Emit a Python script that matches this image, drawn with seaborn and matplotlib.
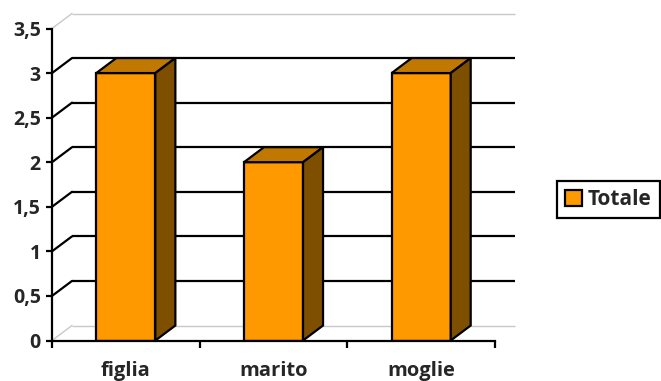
import matplotlib
matplotlib.use("Agg")
import matplotlib.pyplot as plt
from matplotlib.patches import Polygon
from matplotlib.ticker import FixedLocator, FixedFormatter
import seaborn as sns

categories = ["figlia", "marito", "moglie"]
values = [3, 2, 3]
series_name = "Totale"
y_ticks = [0, 0.5, 1, 1.5, 2, 2.5, 3, 3.5]
y_tick_labels = ["0", "0,5", "1", "1,5", "2", "2,5", "3", "3,5"]

sns.set_style("white")
plt.rcParams["font.family"] = ["Open Sans", "DejaVu Sans"]
plt.rcParams["font.weight"] = "bold"

W, H = 661, 381
fig = plt.figure(figsize=(W / 100, H / 100), dpi=100)
# front plane of the 3D-style plot area, in pixel terms
left_px, right_px, top_px, bottom_px = 52, 495, 28.5, 340.5
ax = fig.add_axes([left_px / W, (H - bottom_px) / H,
                   (right_px - left_px) / W, (bottom_px - top_px) / H])

front = "#FF9900"
top_c = "#C07800"
side_c = "#7F4F00"
edge_lw = 1.6

sns.barplot(x=categories, y=values, color=front, saturation=1, width=0.4,
            edgecolor="black", linewidth=edge_lw, ax=ax, zorder=3)

ax.set_xlim(-0.5, 2.5)
ax.set_ylim(0, 3.5)

# depth offset of the back wall (20 px right, 15 px up)
dx = 20 / ((right_px - left_px) / 3)
dy = 15 / ((bottom_px - top_px) / 3.5)

# back-wall gridlines and the diagonal links from the value axis
for v in y_ticks:
    edge = v in (0, 3.5)
    col = "#C8C8C8" if edge else "black"
    lw = 1.0 if edge else 1.6
    ax.plot([-0.5 + dx, 2.5 + dx], [v + dy, v + dy], color=col, lw=lw,
            zorder=1, clip_on=False, solid_capstyle="butt")
    ax.plot([-0.5, -0.5 + dx], [v, v + dy], color=col, lw=lw,
            zorder=1, clip_on=False)

# top and side faces of each bar
for p in ax.patches:
    x0 = p.get_x()
    w = p.get_width()
    h = p.get_height()
    top = Polygon([(x0, h), (x0 + dx, h + dy), (x0 + w + dx, h + dy), (x0 + w, h)],
                  closed=True, facecolor=top_c, edgecolor="black",
                  lw=edge_lw, zorder=3, clip_on=False, joinstyle="miter")
    side = Polygon([(x0 + w, 0), (x0 + w + dx, dy), (x0 + w + dx, h + dy), (x0 + w, h)],
                   closed=True, facecolor=side_c, edgecolor="black",
                   lw=edge_lw, zorder=3, clip_on=False, joinstyle="miter")
    ax.add_patch(top)
    ax.add_patch(side)

# axes styling
for s in ("top", "right"):
    ax.spines[s].set_visible(False)
for s in ("left", "bottom"):
    ax.spines[s].set_color("black")
    ax.spines[s].set_linewidth(1.6)
    ax.spines[s].set_zorder(4)

ax.yaxis.set_major_locator(FixedLocator(y_ticks))
ax.yaxis.set_major_formatter(FixedFormatter(y_tick_labels))
ax.tick_params(axis="y", which="major", direction="out", length=4, width=1.6,
               color="black", pad=4, labelsize=14, left=True)
ax.xaxis.set_minor_locator(FixedLocator([-0.5, 0.5, 1.5, 2.5]))
ax.tick_params(axis="x", which="major", length=0, pad=14.5, labelsize=14.5)
ax.tick_params(axis="x", which="minor", direction="out", length=5, width=1.6,
               color="black", bottom=True)
for t in ax.get_xticklabels() + ax.get_yticklabels():
    t.set_fontweight("bold")
ax.set_xlabel("")
ax.set_ylabel("")

leg = fig.legend(handles=[ax.patches[0]], labels=[series_name],
                 loc="center left", bbox_to_anchor=(557 / W, 1 - 199.5 / H),
                 frameon=True, fancybox=False, framealpha=1, edgecolor="black",
                 handlelength=0.78, handleheight=0.78, handletextpad=0.3,
                 borderpad=0.4, borderaxespad=0,
                 prop={"weight": "bold", "size": 15})
leg.get_frame().set_linewidth(1.6)

fig.savefig("out.png", dpi=100)
